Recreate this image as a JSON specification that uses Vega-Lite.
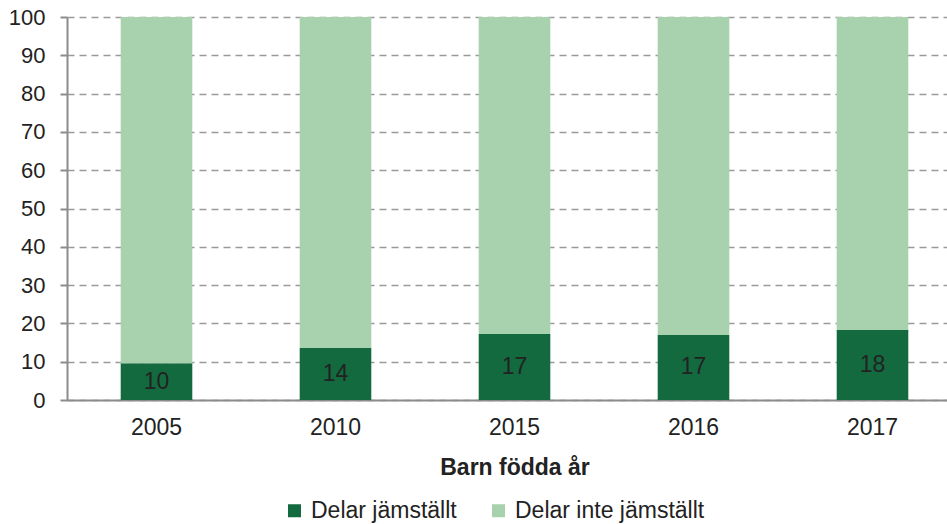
{
  "$schema": "https://vega.github.io/schema/vega-lite/v6.json",
  "width": 880,
  "height": 383,
  "autosize": {"type": "none"},
  "padding": {"left": 67, "top": 17, "right": 0, "bottom": 124},
  "background": "white",
  "config": {
    "view": {"stroke": null},
    "font": "Liberation Sans",
    "text": {"font": "Liberation Sans"}
  },
  "data": {
    "values": [
      {"year": "2005", "group": "Delar jämställt", "value": 9.6, "order": 1},
      {"year": "2005", "group": "Delar inte jämställt", "value": 90.4, "order": 2},
      {"year": "2010", "group": "Delar jämställt", "value": 13.6, "order": 1},
      {"year": "2010", "group": "Delar inte jämställt", "value": 86.4, "order": 2},
      {"year": "2015", "group": "Delar jämställt", "value": 17.2, "order": 1},
      {"year": "2015", "group": "Delar inte jämställt", "value": 82.8, "order": 2},
      {"year": "2016", "group": "Delar jämställt", "value": 17.0, "order": 1},
      {"year": "2016", "group": "Delar inte jämställt", "value": 83.0, "order": 2},
      {"year": "2017", "group": "Delar jämställt", "value": 18.3, "order": 1},
      {"year": "2017", "group": "Delar inte jämställt", "value": 81.7, "order": 2}
    ]
  },
  "encoding": {
    "x": {
      "field": "year",
      "type": "nominal",
      "sort": null,
      "scale": {"range": [0, 895], "paddingInner": 0.6, "paddingOuter": 0.3},
      "axis": {
        "title": "Barn födda år",
        "titleFont": "Liberation Sans",
        "titleFontSize": 23,
        "titleFontWeight": "bold",
        "titleColor": "#222222",
        "titlePadding": 17,
        "labelAngle": 0,
        "labelFont": "Liberation Sans",
        "labelFontSize": 23,
        "labelColor": "#222222",
        "labelPadding": 16,
        "ticks": false,
        "domainColor": "#8c8c8c",
        "domainWidth": 2,
        "grid": false
      }
    }
  },
  "layer": [
    {
      "mark": {"type": "bar"},
      "encoding": {
        "y": {
          "field": "value",
          "type": "quantitative",
          "stack": "zero",
          "scale": {"domain": [0, 100], "nice": false},
          "axis": {
            "title": null,
            "values": [0, 10, 20, 30, 40, 50, 60, 70, 80, 90, 100],
            "labelOverlap": false,
            "labelFont": "Liberation Sans",
            "labelFontSize": 22,
            "labelColor": "#222222",
            "labelPadding": 15,
            "tickSize": 7,
            "tickColor": "#8c8c8c",
            "tickWidth": 2,
            "domainColor": "#8c8c8c",
            "domainWidth": 2,
            "grid": true,
            "gridColor": "#9a9a9a",
            "gridWidth": 1.5,
            "gridDash": [7, 5]
          }
        },
        "color": {
          "field": "group",
          "type": "nominal",
          "sort": ["Delar jämställt", "Delar inte jämställt"],
          "scale": {
            "domain": ["Delar jämställt", "Delar inte jämställt"],
            "range": ["#136a3f", "#a8d1ad"]
          },
          "legend": {
            "title": null,
            "orient": "none",
            "direction": "horizontal",
            "legendX": 216,
            "legendY": 482,
            "symbolType": "square",
            "symbolSize": 169,
            "symbolStrokeWidth": 0,
            "symbolOpacity": 1,
            "labelFont": "Liberation Sans",
            "labelFontSize": 23,
            "labelColor": "#222222",
            "labelOffset": 5,
            "labelLimit": 400,
            "columnPadding": 30
          }
        },
        "order": {"field": "order", "type": "quantitative"}
      }
    },
    {
      "transform": [
        {"filter": "datum.order == 1"},
        {"calculate": "datum.value / 2", "as": "mid"}
      ],
      "mark": {"type": "text", "font": "Liberation Sans", "fontSize": 23, "color": "#222222", "baseline": "middle"},
      "encoding": {
        "y": {
          "field": "mid",
          "type": "quantitative",
          "scale": {"domain": [0, 100], "nice": false},
          "axis": {
            "title": null,
            "values": [0, 10, 20, 30, 40, 50, 60, 70, 80, 90, 100],
            "labelOverlap": false,
            "labelFont": "Liberation Sans",
            "labelFontSize": 22,
            "labelColor": "#222222",
            "labelPadding": 15,
            "tickSize": 7,
            "tickColor": "#8c8c8c",
            "tickWidth": 2,
            "domainColor": "#8c8c8c",
            "domainWidth": 2,
            "grid": true,
            "gridColor": "#9a9a9a",
            "gridWidth": 1.5,
            "gridDash": [7, 5]
          }
        },
        "text": {"field": "value", "type": "quantitative", "format": ".0f"}
      }
    }
  ]
}
